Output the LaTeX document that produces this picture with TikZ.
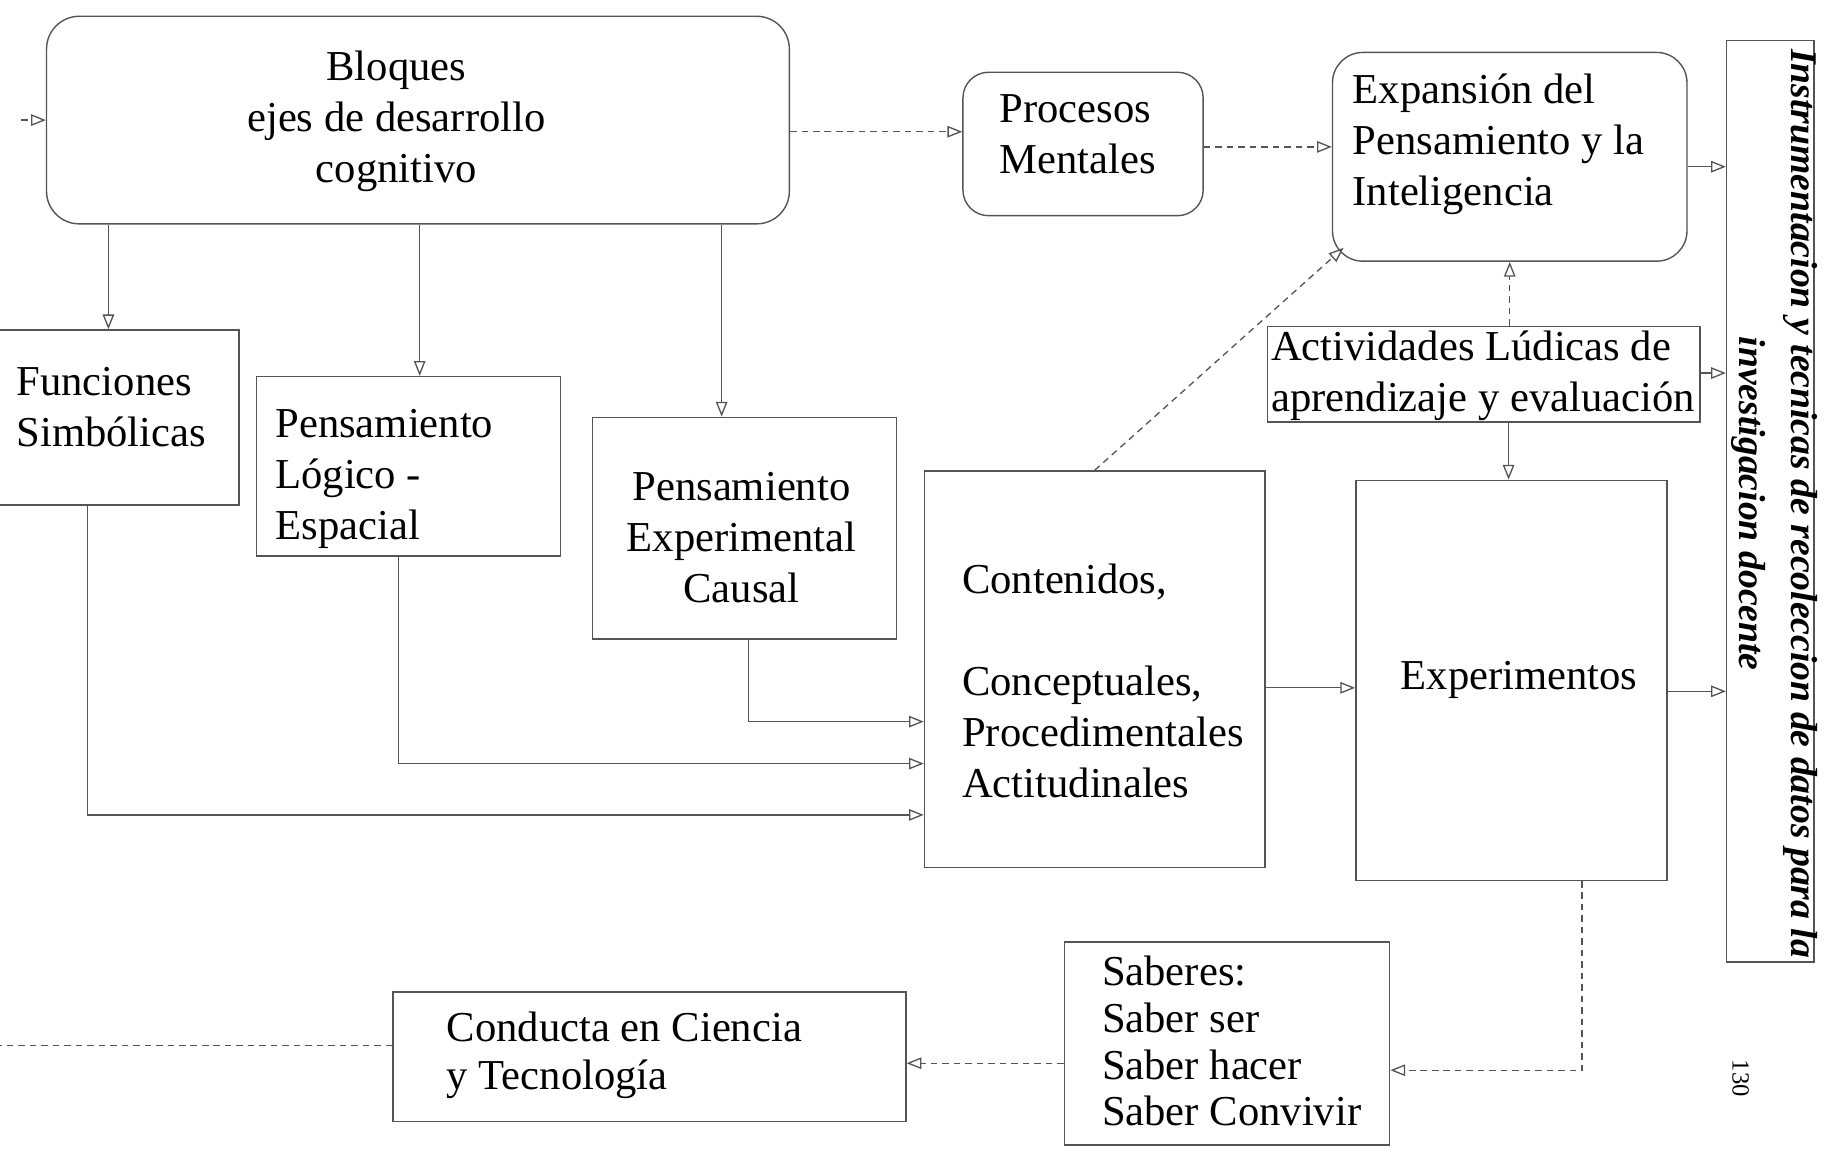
\documentclass[tikz,border=0pt]{standalone}
\usepackage{fontspec}
\setmainfont{Liberation Serif}
\usetikzlibrary{arrows.meta}
\definecolor{linec}{gray}{0.33}
\begin{document}
\begin{tikzpicture}[x=0.025cm,y=-0.025cm,
  box/.style={draw=linec, line width=0.85pt, inner sep=0pt, rectangle},
  rbox/.style={box, rounded corners=#1},
  txt/.style={inner sep=0pt, font=\fontsize{26}{31.2}\selectfont, text=black},
  con/.style={draw=linec, line width=0.8pt, -{Triangle[open,length=9pt,width=7pt]}},
  dcon/.style={con, dash pattern=on 4pt off 3pt},
  dline/.style={draw=linec, line width=0.8pt, dash pattern=on 4pt off 3pt}
]
\clip (0,0) rectangle (1568,985);
\fill[white] (0,0) rectangle (1568,985);

% boxes
\node[rbox=0.7cm, minimum width=15.925cm, minimum height=4.45cm] (bloques) at (358.5,103) {};
\node[rbox=0.55cm, minimum width=5.15cm, minimum height=3.075cm] (procesos) at (929,123.5) {};
\node[rbox=0.65cm, minimum width=7.6cm, minimum height=4.475cm] (expansion) at (1295,134.5) {};
\node[box, minimum width=1.875cm, minimum height=19.75cm] (instr) at (1518.5,430) {};
\node[box, minimum width=5.325cm, minimum height=3.75cm] (funciones) at (98.5,358) {};
\node[box, minimum width=6.525cm, minimum height=3.85cm] (logico) at (350.5,400) {};
\node[box, minimum width=6.525cm, minimum height=4.75cm] (experimental) at (638.5,453) {};
\node[box, minimum width=7.3cm, minimum height=8.5cm] (contenidos) at (939,574) {};
\node[box, minimum width=9.275cm, minimum height=2.05cm] (actividades) at (1272.5,321) {};
\node[box, minimum width=6.675cm, minimum height=8.575cm] (experimentos) at (1296.5,583.5) {};
\node[box, minimum width=6.975cm, minimum height=4.35cm] (saberes) at (1052.5,895) {};
\node[box, minimum width=11cm, minimum height=2.775cm] (conducta) at (557,906.5) {};

% texts
\node[txt, align=center] (bloquesT) at (340,104) {Bloques\\ejes de desarrollo\\cognitivo};
\node[txt, align=left, anchor=west] (procesosT) at (857,115) {Procesos\\Mentales};
\node[txt, align=left, anchor=west] (expansionT) at (1160,124) {Expansión del\\Pensamiento y la\\Inteligencia};
\node[txt, align=left, anchor=west] (funcionesT) at (14,349) {Funciones\\Simbólicas};
\node[txt, align=left, anchor=west] (logicoT) at (236,411) {Pensamiento\\Lógico -\\Espacial};
\node[txt, align=center] (experimentalT) at (636,461) {Pensamiento\\Experimental\\Causal};
\node[txt, align=left, anchor=west] (contenidosT) at (825,584) {Contenidos,\\[31.2pt]Conceptuales,\\Procedimentales\\Actitudinales};
\node[txt, align=left, anchor=west] (actividadesT) at (1090,322) {Actividades Lúdicas de\\aprendizaje y evaluación};
\node[txt] (experimentosT) at (1303,583) {Experimentos};
\node[txt, align=left, anchor=west, font=\fontsize{26}{28.6}\selectfont] (saberesT) at (945,893) {Saberes:\\Saber ser\\Saber hacer\\Saber Convivir};
\node[txt, align=left, anchor=west, font=\fontsize{26}{29.2}\selectfont] (conductaT) at (383,905) {Conducta en Ciencia\\y Tecnología};
\node[txt, rotate=-90, align=center, font=\fontsize{23}{32}\selectfont\bfseries\itshape] (instrT) at (1522,432) {Instrumentacion y tecnicas de recoleccion de datos para la\\investigacion docente};
\node[txt, rotate=-90, font=\fontsize{15}{18}\selectfont] (pagina) at (1493,925) {130};

% connectors
\coordinate (inL) at (18,103);
\coordinate (outL) at (0,897);
\draw[dcon] (inL) -- (bloques.west);
\draw[con] (bloques.south -| 93,0) -- (funciones.north -| 93,0);
\draw[con] (bloques.south -| 360,0) -- (logico.north -| 360,0);
\draw[con] (bloques.south -| 619,0) -- (experimental.north -| 619,0);
\draw[dcon] (bloques.east |- 0,113) -- (procesos.west |- 0,113);
\draw[dcon] (procesos.east |- 0,126) -- (expansion.west |- 0,126);
\draw[con] (expansion.east |- 0,143) -- (instr.west |- 0,143);
\draw[con] (actividades.east |- 0,320) -- (instr.west |- 0,320);
\draw[con] (experimentos.east |- 0,593) -- (instr.west |- 0,593);
\draw[dcon] (actividades.north -| 1295,0) -- (expansion.south -| 1295,0);
\draw[con] (actividades.south -| 1294,0) -- (experimentos.north -| 1294,0);
\draw[dcon] (contenidos.north) -- ([shift={(10,-12)}]expansion.south west);
\draw[con] (experimental.south -| 642,0) |- (contenidos.west |- 0,619);
\draw[con] (logico.south -| 342,0) |- (contenidos.west |- 0,655);
\draw[con] (funciones.south -| 75,0) |- (contenidos.west |- 0,699);
\draw[con] (contenidos.east |- 0,590) -- (experimentos.west |- 0,590);
\draw[dcon] (experimentos.south -| 1357,0) |- (saberes.east |- 0,918);
\draw[dcon] (saberes.west |- 0,912) -- (conducta.east |- 0,912);
\draw[dline] (conducta.west |- outL) -- (outL);
\end{tikzpicture}
\end{document}
